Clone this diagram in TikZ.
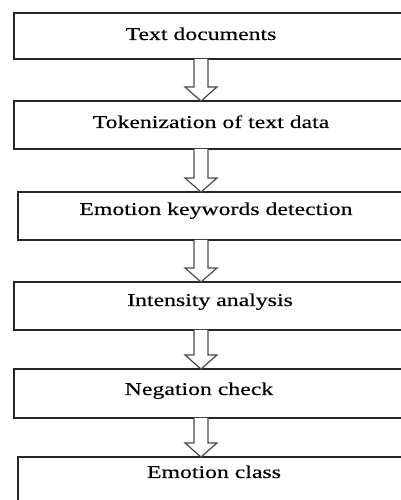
\documentclass[tikz,border=0pt]{standalone}
\usepackage{fontspec}
\setmainfont[FakeStretch=1.32,FakeBold=0.2]{Liberation Serif}
\usepackage{tikz}
\usetikzlibrary{calc}

\tikzset{
  stepbox/.style={draw=black!85, line width=1.4pt, inner sep=0pt, outer sep=0pt,
    minimum width=420pt, anchor=north west},
  steptext/.style={font=\fontsize{18}{20}\selectfont, inner sep=0pt, anchor=base},
  hollowarrow/.style={draw=black!70, line width=1.2pt, fill=white, line join=miter},
}

\begin{document}
\begin{tikzpicture}[x=1pt,y=1pt]
\useasboundingbox (0,0) rectangle (401,500);
\clip (0,0) rectangle (401,500);
\coordinate (ax) at (201,0);

% boxes
\node[stepbox, minimum height=46pt] (b1) at (14,487) {};
\node[stepbox, minimum height=48pt] (b2) at (14,399) {};
\node[stepbox, minimum height=48pt] (b3) at (18,308) {};
\node[stepbox, minimum height=48pt] (b4) at (14,218) {};
\node[stepbox, minimum height=49pt] (b5) at (14,131) {};
\node[stepbox, minimum height=63pt] (b6) at (18,43) {};

% texts
\node[steptext] (t1) at (201,460) {Text documents};
\node[steptext] (t2) at (211,372) {Tokenization of text data};
\node[steptext] (t3) at (216,285) {Emotion keywords detection};
\node[steptext] (t4) at (210,194) {Intensity analysis};
\node[steptext] (t5) at (199,105) {Negation check};
\node[steptext] (t6) at (214,22) {Emotion class};

% hollow arrows
\foreach \i/\j in {1/2,2/3,3/4,4/5,5/6}
  \draw[hollowarrow] ($(b\i.south -| ax)+(-7,0)$) -- ($(b\j.north -| ax)+(-7,14)$)
    -- ++(-9,0) -- (b\j.north -| ax) -- ++(16,14) -- ++(-9,0)
    -- ($(b\i.south -| ax)+(7,0)$);
\end{tikzpicture}
\end{document}
